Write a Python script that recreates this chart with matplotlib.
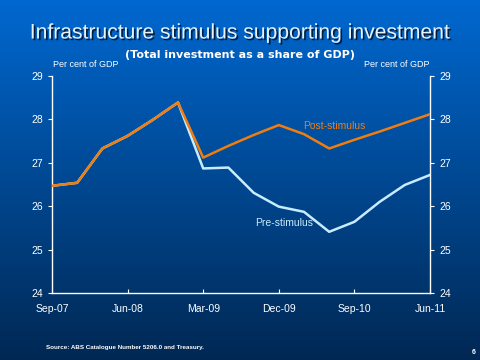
import numpy as np
import matplotlib
matplotlib.use("Agg")
import matplotlib.pyplot as plt
import matplotlib.patheffects as pe

# quarterly data, Sep-07 .. Jun-11
quarters = list(range(16))
post_stimulus = [26.47, 26.54, 27.33, 27.62, 27.99, 28.39, 27.12, 27.39,
                 27.64, 27.87, 27.66, 27.33, 27.53, 27.72, 27.92, 28.12]
pre_stimulus = [26.47, 26.54, 27.33, 27.62, 27.99, 28.39, 26.87, 26.89,
                26.31, 25.99, 25.87, 25.41, 25.64, 26.10, 26.49, 26.72]
tick_pos = [0, 3, 6, 9, 12, 15]
tick_labels = ['Sep-07', 'Jun-08', 'Mar-09', 'Dec-09', 'Sep-10', 'Jun-11']
y_ticks = [24, 25, 26, 27, 28, 29]

plt.rcParams['font.family'] = ['Liberation Sans', 'DejaVu Sans']

fig = plt.figure(figsize=(4.8, 3.6), dpi=100)

# background gradient
bg = fig.add_axes([0, 0, 1, 1], zorder=0)
top = np.array([0, 104, 208]) / 255.0
bot = np.array([0, 40, 84]) / 255.0
t = np.linspace(0, 1, 256)[:, None]
grad = (top[None, :] * (1 - t) + bot[None, :] * t)[:, None, :]
bg.imshow(grad, aspect='auto', extent=[0, 1, 0, 1])
bg.axis('off')

ax = fig.add_axes([52/480, 1 - 293/360, 378/480, 217/360], zorder=1)
ax.patch.set_alpha(0)

ax.plot(quarters, pre_stimulus, color='#C8ECFF', lw=1.8, zorder=2)
ax.plot(quarters, post_stimulus, color='#F07D10', lw=1.8, zorder=3)

ax.set_xlim(0, 15)
ax.set_ylim(24, 29)
ax.set_xticks(tick_pos)
ax.set_xticklabels(tick_labels)
ax.set_yticks(y_ticks)
for s in ['left', 'right', 'bottom']:
    ax.spines[s].set_color('white')
    ax.spines[s].set_linewidth(1.0)
ax.spines['top'].set_visible(False)
ax.tick_params(axis='x', direction='in', colors='white', labelsize=7.5, length=3, pad=8)
ax.tick_params(axis='y', direction='out', colors='white', labelsize=7.5, length=3,
               left=True, right=True, labelleft=True, labelright=True)

ax.text(0.003, 1.03, 'Per cent of GDP', transform=ax.transAxes, color='white',
        fontsize=6.5, ha='left', va='bottom')
ax.text(1.0, 1.03, 'Per cent of GDP', transform=ax.transAxes, color='white',
        fontsize=6.5, ha='right', va='bottom')

ax.text(11.2, 27.85, 'Post-stimulus', color='#F07D10', fontsize=7.5, ha='center', va='center')
ax.text(9.2, 25.62, 'Pre-stimulus', color='#C8ECFF', fontsize=7.5, ha='center', va='center')

fig.text(0.5, 1 - 33/360, 'Infrastructure stimulus supporting investment',
         color='#E6F2FF', fontsize=15.2, ha='center', va='center',
         path_effects=[pe.withSimplePatchShadow(offset=(1.2, -1.2), shadow_rgbFace='#001830', alpha=0.9)])
fig.text(0.5, 1 - 55/360, '(Total investment as a share of GDP)',
         color='white', fontsize=8, fontweight='bold', family='DejaVu Sans',
         ha='center', va='center')

fig.text(46/480, 1 - 347/360, 'Source: ABS Catalogue Number 5206.0 and Treasury.',
         color='white', fontsize=4.5, fontweight='bold', ha='left', va='center')
fig.text(474/480, 1 - 352/360, '6', color='white', fontsize=5, fontweight='bold',
         ha='center', va='center')

fig.savefig('out.png', dpi=100)
